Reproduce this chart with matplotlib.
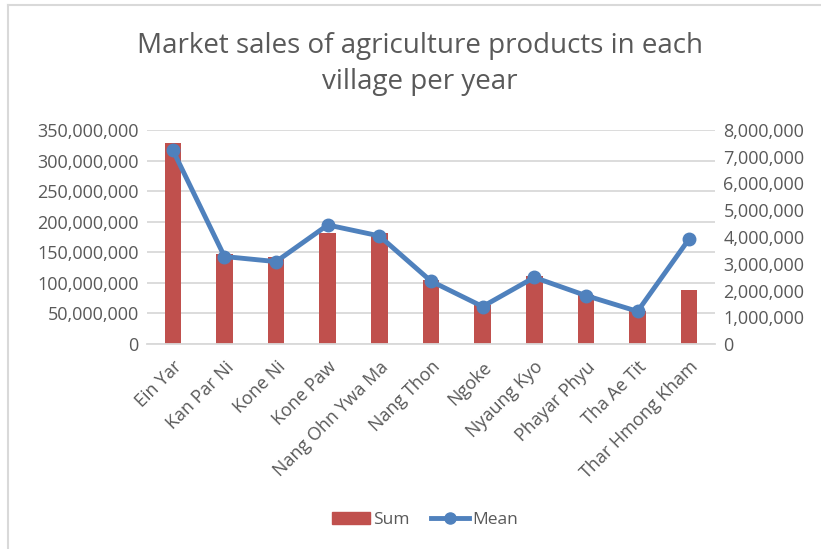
import matplotlib
matplotlib.use('Agg')
import matplotlib.pyplot as plt
from matplotlib.ticker import FuncFormatter
from matplotlib.lines import Line2D
import numpy as np

villages = ['Ein Yar', 'Kan Par Ni', 'Kone Ni', 'Kone Paw', 'Nang Ohn Ywa Ma',
            'Nang Thon', 'Ngoke', 'Nyaung Kyo', 'Phayar Phyu', 'Tha Ae Tit',
            'Thar Hmong Kham']
sum_sales = [328e6, 147e6, 143e6, 182e6, 182e6, 105e6, 64e6, 112e6, 80e6, 54e6, 89e6]
mean_sales = [7.25e6, 3.27e6, 3.08e6, 4.45e6, 4.04e6, 2.35e6, 1.40e6, 2.49e6, 1.81e6, 1.22e6, 3.93e6]

plt.rcParams['font.family'] = ['Open Sans', 'DejaVu Sans']
GREY = '#595959'
BAR = '#c0504d'
LINE = '#4f81bd'

W, H = 821, 549
fig = plt.figure(figsize=(W / 100, H / 100), dpi=100)

# plot area in pixel coords
left, right, top, bottom = 147, 715, 130, 344
ax = fig.add_axes([left / W, 1 - bottom / H, (right - left) / W, (bottom - top) / H])
ax2 = ax.twinx()

x = np.arange(len(villages))
ax.bar(x, sum_sales, width=0.32, color=BAR, zorder=2)
ax2.plot(x, mean_sales, color=LINE, lw=3.5, marker='o', markersize=9, zorder=3)

ax.set_xlim(-0.5, len(villages) - 0.5)
ax.set_ylim(0, 350e6)
ax.set_yticks(np.arange(0, 350e6 + 1, 50e6))
ax2.set_ylim(0, 8e6)
ax2.set_yticks(np.arange(0, 8e6 + 1, 1e6))

fmt = FuncFormatter(lambda v, p: f'{int(v):,}')
ax.yaxis.set_major_formatter(fmt)
ax2.yaxis.set_major_formatter(fmt)

ax.grid(axis='y', color='#d9d9d9', lw=1.3, zorder=0)
ax.set_axisbelow(True)
for a in (ax, ax2):
    for s in a.spines.values():
        s.set_visible(False)
    a.tick_params(length=0, labelsize=13, colors=GREY, pad=6)
ax.spines['bottom'].set_visible(True)
ax.spines['bottom'].set_color('#d9d9d9')
ax.spines['bottom'].set_linewidth(1.3)

ax.set_xticks(x)
ax.set_xticklabels(villages, rotation=45, ha='right', rotation_mode='anchor')
ax.tick_params(axis='x', pad=10)

fig.text(420 / W, 1 - 64 / H, 'Market sales of agriculture products in each\nvillage per year',
         ha='center', va='center', fontsize=20, color=GREY, linespacing=1.4)

handles = [plt.Rectangle((0, 0), 1, 1, color=BAR),
           Line2D([], [], color=LINE, lw=3.5, marker='o', markersize=8)]
fig.legend(handles, ['Sum', 'Mean'], loc='center', bbox_to_anchor=(425 / W, 1 - 520 / H),
           ncol=2, frameon=False, fontsize=12.5, labelcolor=GREY, handlelength=2.2,
           handletextpad=0.2, columnspacing=1.2)

# chart border
fig.add_artist(Line2D([8 / W, 8 / W], [0, 1 - 5 / H], color='#d9d9d9', lw=1.5))
fig.add_artist(Line2D([8 / W, 1], [1 - 5 / H, 1 - 5 / H], color='#d9d9d9', lw=1.5))

fig.savefig('out.png', dpi=100)
